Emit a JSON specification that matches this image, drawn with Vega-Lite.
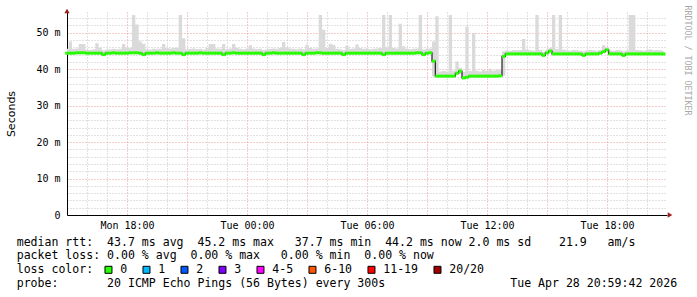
{
"$schema":"https://vega.github.io/schema/vega-lite/v6.json",
"width":600,"height":203,
"autosize":"none",
"padding":{"left":67,"top":12,"right":30,"bottom":82},
"background":"white",
"config":{"view":{"stroke":null},"font":"DejaVu Sans Mono"},
"title":{"text":["median rtt:\u00a0\u00a043.7 ms avg\u00a0\u00a045.2 ms max\u00a0\u00a0\u00a037.7 ms min\u00a0\u00a044.2 ms now\u00a02.0 ms sd\u00a0\u00a0\u00a0\u00a021.9\u00a0\u00a0\u00a0am/s","packet loss:\u00a00.00 % avg\u00a0\u00a00.00 % max\u00a0\u00a0\u00a00.00 % min\u00a0\u00a00.00 % now"],
"subtitle":"probe:\u00a0\u00a0\u00a0\u00a0\u00a0\u00a0\u00a020 ICMP Echo Pings (56 Bytes) every 300s\u00a0\u00a0\u00a0\u00a0\u00a0\u00a0\u00a0\u00a0\u00a0\u00a0\u00a0\u00a0\u00a0\u00a0\u00a0\u00a0\u00a0\u00a0Tue Apr 28 20:59:42 2026",
"orient":"bottom","anchor":"start","frame":"group","dx":-50.3,"offset":-39,"font":"DejaVu Sans Mono","fontSize":11.56,"fontWeight":"normal","color":"#000","lineHeight":13.67,"baseline":"top",
"subtitleFont":"DejaVu Sans Mono","subtitleFontSize":11.56,"subtitleFontWeight":"normal","subtitleColor":"#000","subtitleLineHeight":13.67,"subtitlePadding":15.8},
"data":{"values":[
{"t":"2026-04-27T15:00","m":44.4,"l":44.1,"h":45.6},
{"t":"2026-04-27T15:10","m":44.4,"l":44.1,"h":47.6},
{"t":"2026-04-27T15:20","m":44.4,"l":44.1,"h":45.6},
{"t":"2026-04-27T15:30","m":44.5,"l":44.2,"h":45.7},
{"t":"2026-04-27T15:40","m":44.5,"l":44.2,"h":46.9},
{"t":"2026-04-27T15:50","m":44.5,"l":44.2,"h":46.9},
{"t":"2026-04-27T16:00","m":44.4,"l":44.1,"h":45.4},
{"t":"2026-04-27T16:10","m":44.4,"l":44.1,"h":45.3},
{"t":"2026-04-27T16:20","m":44.4,"l":44.1,"h":45.5},
{"t":"2026-04-27T16:30","m":44.4,"l":44.1,"h":47.1},
{"t":"2026-04-27T16:40","m":44.4,"l":44.1,"h":45.9},
{"t":"2026-04-27T16:50","m":44.0,"l":43.7,"h":45.2},
{"t":"2026-04-27T17:00","m":44.4,"l":44.1,"h":45.4},
{"t":"2026-04-27T17:10","m":44.4,"l":44.1,"h":45.5},
{"t":"2026-04-27T17:20","m":44.5,"l":44.2,"h":45.6},
{"t":"2026-04-27T17:30","m":44.4,"l":44.1,"h":45.5},
{"t":"2026-04-27T17:40","m":44.4,"l":44.1,"h":45.6},
{"t":"2026-04-27T17:50","m":44.4,"l":44.1,"h":46.9},
{"t":"2026-04-27T18:00","m":44.4,"l":44.1,"h":46.0},
{"t":"2026-04-27T18:10","m":44.5,"l":44.2,"h":45.8},
{"t":"2026-04-27T18:20","m":44.5,"l":44.2,"h":54.9},
{"t":"2026-04-27T18:30","m":44.5,"l":44.2,"h":52.3},
{"t":"2026-04-27T18:40","m":44.4,"l":44.1,"h":47.6},
{"t":"2026-04-27T18:50","m":44.0,"l":43.7,"h":47.0},
{"t":"2026-04-27T19:00","m":44.4,"l":44.1,"h":45.5},
{"t":"2026-04-27T19:10","m":44.4,"l":44.1,"h":45.4},
{"t":"2026-04-27T19:20","m":44.4,"l":44.1,"h":45.6},
{"t":"2026-04-27T19:30","m":44.5,"l":44.2,"h":45.5},
{"t":"2026-04-27T19:40","m":44.4,"l":44.1,"h":45.6},
{"t":"2026-04-27T19:50","m":44.4,"l":44.1,"h":46.9},
{"t":"2026-04-27T20:00","m":44.4,"l":44.1,"h":45.8},
{"t":"2026-04-27T20:10","m":44.4,"l":44.1,"h":45.7},
{"t":"2026-04-27T20:20","m":44.5,"l":44.2,"h":45.8},
{"t":"2026-04-27T20:30","m":44.4,"l":44.1,"h":45.9},
{"t":"2026-04-27T20:40","m":44.4,"l":44.1,"h":54.9},
{"t":"2026-04-27T20:50","m":44.0,"l":43.7,"h":48.5},
{"t":"2026-04-27T21:00","m":44.4,"l":44.1,"h":45.4},
{"t":"2026-04-27T21:10","m":44.4,"l":44.1,"h":45.6},
{"t":"2026-04-27T21:20","m":44.4,"l":44.1,"h":45.7},
{"t":"2026-04-27T21:30","m":44.4,"l":44.1,"h":45.5},
{"t":"2026-04-27T21:40","m":44.5,"l":44.2,"h":45.6},
{"t":"2026-04-27T21:50","m":44.4,"l":44.1,"h":45.4},
{"t":"2026-04-27T22:00","m":44.4,"l":44.1,"h":45.8},
{"t":"2026-04-27T22:10","m":44.4,"l":44.1,"h":46.9},
{"t":"2026-04-27T22:20","m":44.4,"l":44.1,"h":46.9},
{"t":"2026-04-27T22:30","m":44.4,"l":44.1,"h":45.7},
{"t":"2026-04-27T22:40","m":44.4,"l":44.1,"h":45.6},
{"t":"2026-04-27T22:50","m":44.0,"l":43.7,"h":46.9},
{"t":"2026-04-27T23:00","m":44.4,"l":44.1,"h":45.5},
{"t":"2026-04-27T23:10","m":44.4,"l":44.1,"h":45.7},
{"t":"2026-04-27T23:20","m":44.5,"l":44.2,"h":46.9},
{"t":"2026-04-27T23:30","m":44.4,"l":44.1,"h":45.8},
{"t":"2026-04-27T23:40","m":44.4,"l":44.1,"h":45.6},
{"t":"2026-04-27T23:50","m":44.4,"l":44.1,"h":45.5},
{"t":"2026-04-28T00:00","m":44.4,"l":44.1,"h":45.6},
{"t":"2026-04-28T00:10","m":44.4,"l":44.1,"h":46.6},
{"t":"2026-04-28T00:20","m":44.4,"l":44.1,"h":45.7},
{"t":"2026-04-28T00:30","m":44.4,"l":44.1,"h":45.5},
{"t":"2026-04-28T00:40","m":44.4,"l":44.1,"h":45.6},
{"t":"2026-04-28T00:50","m":44.0,"l":43.7,"h":45.3},
{"t":"2026-04-28T01:00","m":44.4,"l":44.1,"h":45.5},
{"t":"2026-04-28T01:10","m":44.4,"l":44.1,"h":45.6},
{"t":"2026-04-28T01:20","m":44.5,"l":44.2,"h":45.7},
{"t":"2026-04-28T01:30","m":44.4,"l":44.1,"h":45.6},
{"t":"2026-04-28T01:40","m":44.4,"l":44.1,"h":45.8},
{"t":"2026-04-28T01:50","m":44.4,"l":44.1,"h":47.5},
{"t":"2026-04-28T02:00","m":44.4,"l":44.1,"h":46.0},
{"t":"2026-04-28T02:10","m":44.4,"l":44.1,"h":45.7},
{"t":"2026-04-28T02:20","m":44.4,"l":44.1,"h":45.6},
{"t":"2026-04-28T02:30","m":44.4,"l":44.1,"h":45.5},
{"t":"2026-04-28T02:40","m":44.4,"l":44.1,"h":45.7},
{"t":"2026-04-28T02:50","m":44.0,"l":43.7,"h":45.5},
{"t":"2026-04-28T03:00","m":44.4,"l":44.1,"h":46.7},
{"t":"2026-04-28T03:10","m":44.4,"l":44.1,"h":45.8},
{"t":"2026-04-28T03:20","m":44.4,"l":44.1,"h":45.6},
{"t":"2026-04-28T03:30","m":44.5,"l":44.2,"h":45.7},
{"t":"2026-04-28T03:40","m":44.5,"l":44.2,"h":54.9},
{"t":"2026-04-28T03:50","m":44.4,"l":44.1,"h":50.8},
{"t":"2026-04-28T04:00","m":44.4,"l":44.1,"h":45.8},
{"t":"2026-04-28T04:10","m":44.4,"l":44.1,"h":47.0},
{"t":"2026-04-28T04:20","m":44.4,"l":44.1,"h":46.7},
{"t":"2026-04-28T04:30","m":44.4,"l":44.1,"h":45.6},
{"t":"2026-04-28T04:40","m":44.4,"l":44.1,"h":45.5},
{"t":"2026-04-28T04:50","m":44.0,"l":43.7,"h":45.3},
{"t":"2026-04-28T05:00","m":44.4,"l":44.1,"h":46.5},
{"t":"2026-04-28T05:10","m":44.4,"l":44.1,"h":45.6},
{"t":"2026-04-28T05:20","m":44.4,"l":44.1,"h":45.7},
{"t":"2026-04-28T05:30","m":44.4,"l":44.1,"h":46.8},
{"t":"2026-04-28T05:40","m":44.4,"l":44.1,"h":45.8},
{"t":"2026-04-28T05:50","m":44.4,"l":44.1,"h":45.6},
{"t":"2026-04-28T06:00","m":44.4,"l":44.1,"h":45.7},
{"t":"2026-04-28T06:10","m":44.4,"l":44.1,"h":45.5},
{"t":"2026-04-28T06:20","m":44.4,"l":44.1,"h":45.6},
{"t":"2026-04-28T06:30","m":44.4,"l":44.1,"h":45.7},
{"t":"2026-04-28T06:40","m":44.4,"l":44.1,"h":45.8},
{"t":"2026-04-28T06:50","m":44.0,"l":43.7,"h":54.9},
{"t":"2026-04-28T07:00","m":44.4,"l":44.1,"h":46.0},
{"t":"2026-04-28T07:10","m":44.4,"l":44.1,"h":54.9},
{"t":"2026-04-28T07:20","m":44.4,"l":44.1,"h":45.8},
{"t":"2026-04-28T07:30","m":44.4,"l":44.1,"h":45.7},
{"t":"2026-04-28T07:40","m":44.4,"l":44.1,"h":52.5},
{"t":"2026-04-28T07:50","m":44.4,"l":44.1,"h":46.3},
{"t":"2026-04-28T08:00","m":44.4,"l":44.1,"h":45.6},
{"t":"2026-04-28T08:10","m":44.4,"l":44.1,"h":45.5},
{"t":"2026-04-28T08:20","m":44.4,"l":44.1,"h":45.6},
{"t":"2026-04-28T08:30","m":44.5,"l":44.2,"h":45.7},
{"t":"2026-04-28T08:40","m":44.5,"l":44.2,"h":54.9},
{"t":"2026-04-28T08:50","m":44.0,"l":43.7,"h":45.4},
{"t":"2026-04-28T09:00","m":44.4,"l":44.1,"h":45.6},
{"t":"2026-04-28T09:10","m":44.5,"l":44.2,"h":45.7},
{"t":"2026-04-28T09:20","m":42.2,"l":38.0,"h":47.6},
{"t":"2026-04-28T09:30","m":38.1,"l":37.8,"h":54.5},
{"t":"2026-04-28T09:40","m":38.1,"l":37.8,"h":39.4},
{"t":"2026-04-28T09:50","m":38.1,"l":37.8,"h":39.5},
{"t":"2026-04-28T10:00","m":38.1,"l":37.8,"h":39.4},
{"t":"2026-04-28T10:10","m":38.1,"l":37.8,"h":54.9},
{"t":"2026-04-28T10:20","m":38.1,"l":37.8,"h":39.6},
{"t":"2026-04-28T10:30","m":38.9,"l":38.6,"h":42.1},
{"t":"2026-04-28T10:40","m":39.5,"l":38.6,"h":40.4},
{"t":"2026-04-28T10:50","m":37.6,"l":37.3,"h":39.3},
{"t":"2026-04-28T11:00","m":37.8,"l":37.5,"h":51.7},
{"t":"2026-04-28T11:10","m":38.1,"l":37.8,"h":39.5},
{"t":"2026-04-28T11:20","m":38.1,"l":37.8,"h":49.9},
{"t":"2026-04-28T11:30","m":38.1,"l":37.8,"h":39.6},
{"t":"2026-04-28T11:40","m":38.1,"l":37.8,"h":39.4},
{"t":"2026-04-28T11:50","m":38.1,"l":37.8,"h":39.8},
{"t":"2026-04-28T12:00","m":38.1,"l":37.8,"h":39.5},
{"t":"2026-04-28T12:10","m":38.1,"l":37.8,"h":40.1},
{"t":"2026-04-28T12:20","m":38.1,"l":37.8,"h":39.6},
{"t":"2026-04-28T12:30","m":38.1,"l":37.8,"h":39.9},
{"t":"2026-04-28T12:40","m":38.2,"l":37.9,"h":39.7},
{"t":"2026-04-28T12:50","m":43.5,"l":38.2,"h":44.9},
{"t":"2026-04-28T13:00","m":44.2,"l":43.9,"h":45.2},
{"t":"2026-04-28T13:10","m":44.2,"l":43.9,"h":45.1},
{"t":"2026-04-28T13:20","m":44.2,"l":43.9,"h":45.3},
{"t":"2026-04-28T13:30","m":44.2,"l":43.9,"h":45.2},
{"t":"2026-04-28T13:40","m":44.2,"l":43.9,"h":45.3},
{"t":"2026-04-28T13:50","m":44.2,"l":43.9,"h":48.3},
{"t":"2026-04-28T14:00","m":44.2,"l":43.9,"h":45.4},
{"t":"2026-04-28T14:10","m":44.2,"l":43.9,"h":45.2},
{"t":"2026-04-28T14:20","m":44.2,"l":43.9,"h":45.1},
{"t":"2026-04-28T14:30","m":44.2,"l":43.9,"h":54.9},
{"t":"2026-04-28T14:40","m":44.2,"l":43.9,"h":45.3},
{"t":"2026-04-28T14:50","m":43.8,"l":43.5,"h":44.8},
{"t":"2026-04-28T15:00","m":44.5,"l":44.2,"h":45.4},
{"t":"2026-04-28T15:10","m":45.0,"l":44.7,"h":45.8},
{"t":"2026-04-28T15:20","m":44.2,"l":43.9,"h":54.9},
{"t":"2026-04-28T15:30","m":44.2,"l":43.9,"h":45.5},
{"t":"2026-04-28T15:40","m":44.2,"l":43.9,"h":54.9},
{"t":"2026-04-28T15:50","m":44.2,"l":43.9,"h":45.4},
{"t":"2026-04-28T16:00","m":44.2,"l":43.9,"h":45.2},
{"t":"2026-04-28T16:10","m":44.2,"l":43.9,"h":45.1},
{"t":"2026-04-28T16:20","m":44.2,"l":43.9,"h":45.3},
{"t":"2026-04-28T16:30","m":44.2,"l":43.9,"h":45.2},
{"t":"2026-04-28T16:40","m":44.2,"l":43.9,"h":45.1},
{"t":"2026-04-28T16:50","m":43.8,"l":43.5,"h":44.9},
{"t":"2026-04-28T17:00","m":44.2,"l":43.9,"h":45.2},
{"t":"2026-04-28T17:10","m":44.2,"l":43.9,"h":45.3},
{"t":"2026-04-28T17:20","m":44.2,"l":43.9,"h":45.2},
{"t":"2026-04-28T17:30","m":44.2,"l":43.9,"h":45.1},
{"t":"2026-04-28T17:40","m":44.4,"l":44.1,"h":45.3},
{"t":"2026-04-28T17:50","m":44.8,"l":44.5,"h":46.6},
{"t":"2026-04-28T18:00","m":45.3,"l":45.0,"h":46.0},
{"t":"2026-04-28T18:10","m":44.2,"l":43.9,"h":45.2},
{"t":"2026-04-28T18:20","m":44.2,"l":43.9,"h":45.1},
{"t":"2026-04-28T18:30","m":44.2,"l":43.9,"h":45.3},
{"t":"2026-04-28T18:40","m":44.2,"l":43.9,"h":45.2},
{"t":"2026-04-28T18:50","m":43.8,"l":43.5,"h":44.9},
{"t":"2026-04-28T19:00","m":44.2,"l":43.9,"h":45.2},
{"t":"2026-04-28T19:10","m":44.2,"l":43.9,"h":54.9},
{"t":"2026-04-28T19:20","m":44.2,"l":43.9,"h":54.9},
{"t":"2026-04-28T19:30","m":44.2,"l":43.9,"h":45.3},
{"t":"2026-04-28T19:40","m":44.2,"l":43.9,"h":45.2},
{"t":"2026-04-28T19:50","m":44.2,"l":43.9,"h":45.1},
{"t":"2026-04-28T20:00","m":44.2,"l":43.9,"h":45.3},
{"t":"2026-04-28T20:10","m":44.2,"l":43.9,"h":45.4},
{"t":"2026-04-28T20:20","m":44.2,"l":43.9,"h":45.2},
{"t":"2026-04-28T20:30","m":44.2,"l":43.9,"h":45.3},
{"t":"2026-04-28T20:40","m":44.2,"l":43.9,"h":45.2},
{"t":"2026-04-28T20:50","m":44.2,"l":43.9,"h":45.1}
]},
"layer":[
{"mark":{"type":"area","interpolate":"step","color":"#dadada","opacity":1},
 "encoding":{
  "x":{"field":"t","type":"temporal","scale":{"domain":[{"year":2026,"month":4,"date":27,"hours":15},{"year":2026,"month":4,"date":28,"hours":21}]},
       "axis":{"orient":"bottom","grid":true,"gridColor":"#c4c4c4","gridDash":[1,2],"gridWidth":1,
         "values":[{"year":2026,"month":4,"date":27,"hours":16},{"year":2026,"month":4,"date":27,"hours":17},{"year":2026,"month":4,"date":27,"hours":19},{"year":2026,"month":4,"date":27,"hours":20},{"year":2026,"month":4,"date":27,"hours":22},{"year":2026,"month":4,"date":27,"hours":23},{"year":2026,"month":4,"date":28,"hours":1},{"year":2026,"month":4,"date":28,"hours":2},{"year":2026,"month":4,"date":28,"hours":4},{"year":2026,"month":4,"date":28,"hours":5},{"year":2026,"month":4,"date":28,"hours":7},{"year":2026,"month":4,"date":28,"hours":8},{"year":2026,"month":4,"date":28,"hours":10},{"year":2026,"month":4,"date":28,"hours":11},{"year":2026,"month":4,"date":28,"hours":13},{"year":2026,"month":4,"date":28,"hours":14},{"year":2026,"month":4,"date":28,"hours":16},{"year":2026,"month":4,"date":28,"hours":17},{"year":2026,"month":4,"date":28,"hours":19},{"year":2026,"month":4,"date":28,"hours":20}],
         "labels":false,"ticks":false,"domain":false,"title":null}},
  "y":{"field":"h","type":"quantitative","scale":{"domain":[0,55.7],"nice":false,"zero":true},
       "axis":{"orient":"left","grid":true,"gridColor":"#c4c4c4","gridDash":[1,2],"gridWidth":1,"values":[2,4,6,8,12,14,16,18,22,24,26,28,32,34,36,38,42,44,46,48,52,54],"labels":false,"ticks":false,"domain":false,"title":null}},
  "y2":{"field":"l"}
 }},
{"mark":{"type":"line","interpolate":"step","color":"#202020","strokeWidth":1.2},
 "encoding":{
  "x":{"field":"t","type":"temporal",
       "axis":{"orient":"bottom","grid":true,"gridColor":"#e89898","gridDash":[1,2],"gridWidth":1,
         "values":[{"year":2026,"month":4,"date":27,"hours":18},{"year":2026,"month":4,"date":27,"hours":21},{"year":2026,"month":4,"date":28,"hours":0},{"year":2026,"month":4,"date":28,"hours":3},{"year":2026,"month":4,"date":28,"hours":6},{"year":2026,"month":4,"date":28,"hours":9},{"year":2026,"month":4,"date":28,"hours":12},{"year":2026,"month":4,"date":28,"hours":15},{"year":2026,"month":4,"date":28,"hours":18}],
         "labels":false,"ticks":false,"domain":false,"title":null}},
  "y":{"field":"m","type":"quantitative",
       "axis":{"orient":"left","grid":true,"gridColor":"#e89898","gridDash":[1,2],"gridWidth":1,"values":[10,20,30,40,50],"labels":false,"ticks":false,"domain":false,"title":null}}
 }},
{"mark":{"type":"tick","orient":"horizontal","size":3.5,"thickness":3,"opacity":1},
 "encoding":{
  "x":{"field":"t","type":"temporal",
       "axis":{"orient":"bottom","grid":false,"format":"%a %H:%M",
         "values":[{"year":2026,"month":4,"date":27,"hours":18},{"year":2026,"month":4,"date":28,"hours":0},{"year":2026,"month":4,"date":28,"hours":6},{"year":2026,"month":4,"date":28,"hours":12},{"year":2026,"month":4,"date":28,"hours":18}],
         "labelFont":"DejaVu Sans Mono","labelFontSize":10,"labelColor":"#000","labelPadding":5,"labelFlush":false,"labelOverlap":false,"ticks":false,"domain":true,"domainColor":"#000","domainWidth":1,"title":null}},
  "y":{"field":"m","type":"quantitative",
       "axis":{"orient":"left","grid":false,"values":[0,10,20,30,40,50],"labelExpr":"datum.value == 0 ? '0' : datum.value + ' m'","labelFont":"DejaVu Sans Mono","labelFontSize":10,"labelColor":"#000","labelPadding":7,"ticks":false,"domain":true,"domainColor":"#000","domainWidth":1,
               "title":"Seconds","titleFont":"DejaVu Sans","titleFontSize":11,"titleFontWeight":"normal","titleColor":"#000","titlePadding":19}},
  "color":{"datum":"0","type":"nominal",
    "scale":{"domain":["0","1","2","3","4-5","6-10","11-19","20/20"],"range":["#26ff00","#00b8ff","#0059ff","#7e00ff","#ff00ff","#ff5500","#ff0000","#a10000"]},
    "legend":{"orient":"none","legendX":-50.3,"legendY":251.7,"direction":"horizontal","title":"loss color:","titleOrient":"left","titleFont":"DejaVu Sans Mono","titleFontSize":11.56,"titleFontWeight":"normal","titleColor":"#000","titlePadding":9,
      "labelFont":"DejaVu Sans Mono","labelFontSize":11.56,"labelColor":"#000","labelOffset":6,"columnPadding":13,"symbolType":"square","symbolSize":49,"symbolStrokeColor":"#000","symbolStrokeWidth":1,"symbolOpacity":1,"padding":0}}
 }},
{"data":{"values":[{"k":"up"}]},
 "mark":{"type":"point","shape":"triangle-up","filled":true,"size":28,"color":"#9c1f1f","opacity":1,"yOffset":-1},
 "encoding":{
  "x":{"datum":{"year":2026,"month":4,"date":27,"hours":15},"type":"temporal","axis":null},
  "y":{"datum":55.7,"type":"quantitative",
       "axis":{"orient":"right","labels":false,"ticks":false,"domain":false,"grid":false,"title":"RRDTOOL / TOBI OETIKER","titleAngle":90,"titleFont":"DejaVu Sans Mono","titleFontSize":8.3,"titleFontWeight":"normal","titleColor":"#a8a8a8","titleX":19.5,"titleY":-7,"titleAlign":"left","titleBaseline":"middle"}}
 }},
{"data":{"values":[{"k":"right"}]},
 "mark":{"type":"point","shape":"triangle-right","filled":true,"size":28,"color":"#9c1f1f","opacity":1,"xOffset":3},
 "encoding":{
  "x":{"datum":{"year":2026,"month":4,"date":28,"hours":21},"type":"temporal","axis":null},
  "y":{"datum":0,"type":"quantitative","axis":null}
 }}
],
"resolve":{"axis":{"x":"independent","y":"independent"}}
}
